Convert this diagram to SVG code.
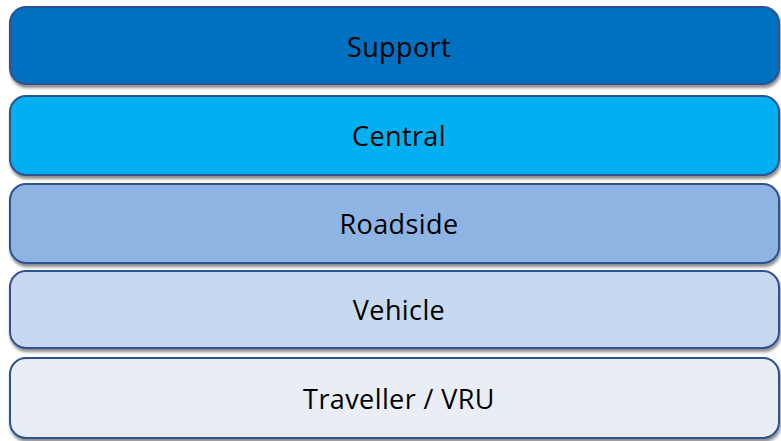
<svg xmlns="http://www.w3.org/2000/svg" width="781" height="441" viewBox="0 0 781 441">
  <defs>
    <filter id="shadow" x="-5%" y="-20%" width="110%" height="150%">
      <feGaussianBlur in="SourceAlpha" stdDeviation="1.5"/>
      <feOffset dx="1" dy="3" result="off"/>
      <feComponentTransfer><feFuncA type="linear" slope="0.45"/></feComponentTransfer>
      <feMerge><feMergeNode/><feMergeNode in="SourceGraphic"/></feMerge>
    </filter>
  </defs>
  <style>
    .layer rect { stroke: #2F528F; stroke-width: 2; filter: url(#shadow); }
    .layer text { font-family: "Open Sans", "Liberation Sans", sans-serif; font-size: 27px; letter-spacing: 0.4px; fill: #000; text-anchor: middle; }
  </style>
  <rect width="781" height="441" fill="#ffffff"/>
  <g id="support" class="layer">
    <rect x="10" y="7" width="769" height="77" rx="16" fill="#0070C0"/>
    <text x="399" y="57">Support</text>
  </g>
  <g id="central" class="layer">
    <rect x="10" y="96" width="769" height="79" rx="16" fill="#00B0F0"/>
    <text x="399" y="146">Central</text>
  </g>
  <g id="roadside" class="layer">
    <rect x="10" y="184" width="769" height="79" rx="16" fill="#8EB4E3"/>
    <text x="399" y="234">Roadside</text>
  </g>
  <g id="vehicle" class="layer">
    <rect x="10" y="271" width="769" height="77" rx="16" fill="#C6D9F1"/>
    <text x="399" y="320">Vehicle</text>
  </g>
  <g id="traveller" class="layer">
    <rect x="10" y="358" width="769" height="80" rx="16" fill="#E9EEF6"/>
    <text x="399" y="409">Traveller / VRU</text>
  </g>
  <g id="connectors"/>
</svg>
